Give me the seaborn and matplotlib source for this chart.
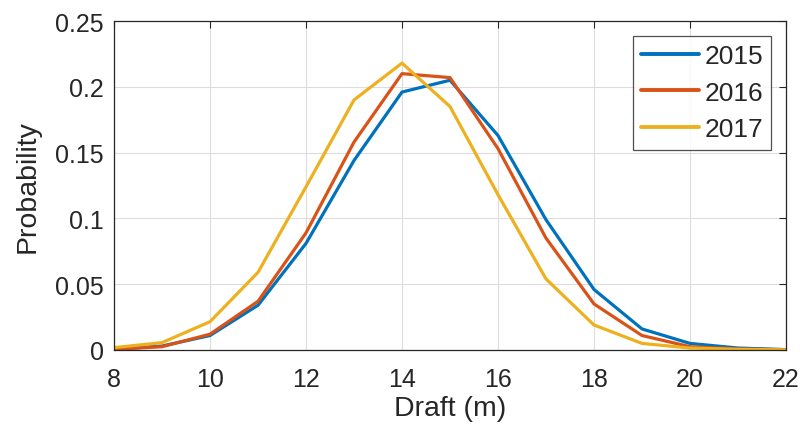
import numpy as np
import pandas as pd
import seaborn as sns
import matplotlib.pyplot as plt

# data
draft = [8, 9, 10, 11, 12, 13, 14, 15, 16, 17, 18, 19, 20, 21, 22]
p2015 = [0.0005, 0.003, 0.011, 0.034, 0.081, 0.144, 0.196, 0.205, 0.163, 0.099, 0.046, 0.016, 0.005, 0.0015, 0.0003]
p2016 = [0.0005, 0.0025, 0.012, 0.037, 0.089, 0.158, 0.210, 0.207, 0.153, 0.085, 0.035, 0.011, 0.0025, 0.0008, 0.0002]
p2017 = [0.0018, 0.0056, 0.0215, 0.059, 0.124, 0.190, 0.218, 0.185, 0.118, 0.054, 0.019, 0.005, 0.0015, 0.0005, 0.0001]
years = ["2015", "2016", "2017"]
colors = ["#0072BD", "#D95319", "#EDB120"]

df = pd.DataFrame({
    "Draft": draft * 3,
    "Probability": p2015 + p2016 + p2017,
    "Year": [y for y in years for _ in draft],
})

sns.set_style("white")
plt.rcParams["font.family"] = ["Liberation Sans", "DejaVu Sans"]

fig = plt.figure(figsize=(8.04, 4.35), dpi=100)
ax = fig.add_axes([114 / 804, 84 / 435, 672 / 804, 329 / 435])

sns.lineplot(data=df, x="Draft", y="Probability", hue="Year", palette=colors,
             linewidth=2.3, ax=ax)

ax.set_xlim(8, 22)
ax.set_ylim(0, 0.25)
ax.set_xticks(np.arange(8, 23, 2))
ax.set_yticks([0, 0.05, 0.1, 0.15, 0.2, 0.25])
ax.set_yticklabels(["0", "0.05", "0.1", "0.15", "0.2", "0.25"])
ax.grid(True, color="#dddddd", linewidth=0.8)
ax.set_axisbelow(True)
for s in ax.spines.values():
    s.set_color("#262626")
    s.set_linewidth(0.9)
ax.tick_params(direction="in", length=5, width=0.8, color="#262626",
               labelsize=18, labelcolor="#262626", top=True, right=True)
ax.tick_params(axis="x", pad=12)
ax.tick_params(axis="y", pad=7.5)
ax.set_xlabel("Draft (m)", fontsize=20.5, color="#262626", labelpad=3)
ax.set_ylabel("Probability", fontsize=20.5, color="#262626", labelpad=10)

leg = ax.legend(loc="upper right", fontsize=19, frameon=True, fancybox=False,
                edgecolor="#262626", handlelength=2.2, handletextpad=0.2,
                borderpad=0.32, labelspacing=0.48, borderaxespad=0.55)
leg.get_frame().set_linewidth(0.9)
for h in leg.get_lines():
    h.set_linewidth(2.8)

fig.savefig("out.png", dpi=100)
